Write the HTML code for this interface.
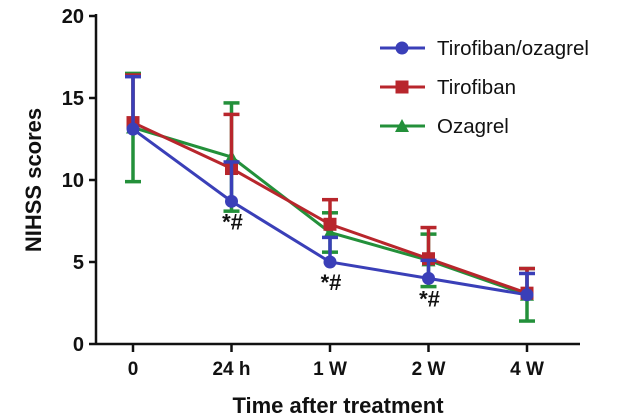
<!DOCTYPE html>
<html><head><meta charset="utf-8"><style>
body{margin:0;background:#fff;}
svg{display:block;font-family:"Liberation Sans",Arial,sans-serif;}
</style></head><body>
<svg id="chart" width="641" height="419"></svg>
<script>
const categories=["0","24 h","1 W","2 W","4 W"];
const yTicks=[0,5,10,15,20];
const seriesNames=["Tirofiban/ozagrel","Tirofiban","Ozagrel"];
const bothVals=[13.1,8.7,5.0,4.0,3.0];
const tiroVals=[13.5,10.7,7.3,5.2,3.1];
const ozaVals=[13.2,11.4,6.8,5.1,3.0];
const bothErr=[3.2,2.4,1.5,1.1,1.3];
const tiroErr=[2.9,3.3,1.5,1.9,1.5];
const ozaErr=[3.3,3.3,1.2,1.6,1.6];
const errUp=[true,true,true];
const errDown=[false,false,true];
const sigMarks=["","*#","*#","*#",""];
const colors=["#3a3fb8","#b8262c","#23903a"];
const svg=document.getElementById('chart');
const NS="http://www.w3.org/2000/svg";
const x0=96,x1=580,yBase=344,yTop=16;
function xs(i){return 133+i*98.5;}
function ys(v){return yBase-(v/20)*(yBase-yTop);}
function mk(t,a,p){const e=document.createElementNS(NS,t);for(const k in a)e.setAttribute(k,a[k]);(p||svg).appendChild(e);return e;}
let ax=mk('line',{x1:x0,y1:yTop-2,x2:x0,y2:yBase,stroke:'#111','stroke-width':2.5});


ax=mk('line',{x1:x0,y1:yBase,x2:x1,y2:yBase,stroke:'#111','stroke-width':2.5});


yTicks.forEach(v=>{
 mk('line',{x1:x0-7,y1:ys(v),x2:x0,y2:ys(v),stroke:'#111','stroke-width':2.5});
 const t=mk('text',{x:x0-12,y:ys(v)+7,'text-anchor':'end','font-size':20,'font-weight':'bold',fill:'#111'});
 t.textContent=v;
 
 
});
categories.forEach((c,i)=>{
 mk('line',{x1:xs(i),y1:yBase,x2:xs(i),y2:yBase+8,stroke:'#111','stroke-width':2.5});
 const t=mk('text',{x:xs(i),y:yBase+31,'text-anchor':'middle','font-size':19,'font-weight':'bold',fill:'#111'});
 t.textContent=c;
 
 
});
let tt=mk('text',{x:338,y:413,'text-anchor':'middle','font-size':22,'font-weight':'bold',fill:'#111'});
tt.textContent="Time after treatment";


tt=mk('text',{x:0,y:0,'text-anchor':'middle','font-size':22,'font-weight':'bold',fill:'#111',transform:'translate(41,180) rotate(-90)'});
tt.textContent="NIHSS scores";


const allVals=[bothVals,tiroVals,ozaVals],allErr=[bothErr,tiroErr,ozaErr];
const order=[2,1,0];
order.forEach(s=>{
 const g=mk('g',{});
 
 
 const vals=allVals[s],col=colors[s];
 mk('polyline',{points:vals.map((v,i)=>xs(i)+','+ys(v)).join(' '),fill:'none',stroke:col,'stroke-width':3},g);
 vals.forEach((v,i)=>{
  const ends=[];
  if(errUp[s])ends.push(v+allErr[s][i]);
  if(errDown[s])ends.push(v-allErr[s][i]);
  ends.forEach(e=>{
   mk('line',{x1:xs(i),y1:ys(v),x2:xs(i),y2:ys(e),stroke:col,'stroke-width':3.5},g);
   mk('line',{x1:xs(i)-8,y1:ys(e),x2:xs(i)+8,y2:ys(e),stroke:col,'stroke-width':3.5},g);
  });
  let m;
  if(s===0)m=mk('circle',{cx:xs(i),cy:ys(v),r:6.5,fill:col},g);
  else if(s===1)m=mk('rect',{x:xs(i)-6.5,y:ys(v)-6.5,width:13,height:13,fill:col},g);
  else m=mk('polygon',{points:`${xs(i)},${ys(v)-7} ${xs(i)-7},${ys(v)+6} ${xs(i)+7},${ys(v)+6}`,fill:col},g);
  
  
 });
});
sigMarks.forEach((s,i)=>{
 if(!s)return;
 const t=mk('text',{x:xs(i)+1,y:ys(bothVals[i])+28,'text-anchor':'middle','font-size':22,'font-weight':'bold',fill:'#111'});
 t.textContent=s;
 
 
});
seriesNames.forEach((n,s)=>{
 const y=48+s*39;
 const g=mk('g',{});
 
 
 mk('line',{x1:380,y1:y,x2:425,y2:y,stroke:colors[s],'stroke-width':3},g);
 if(s===0)mk('circle',{cx:402,cy:y,r:6.5,fill:colors[s]},g);
 else if(s===1)mk('rect',{x:395.5,y:y-6.5,width:13,height:13,fill:colors[s]},g);
 else mk('polygon',{points:`402,${y-7} 395,${y+6} 409,${y+6}`,fill:colors[s]},g);
 const t=mk('text',{x:437,y:y+7,'font-size':20.5,fill:'#111'},g);
 t.textContent=n;
});
</script>
</body></html>
